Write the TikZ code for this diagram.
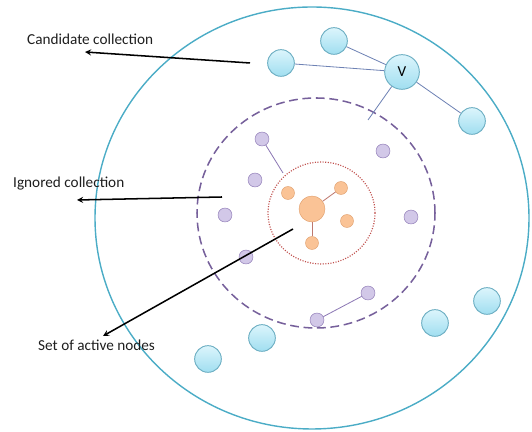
\documentclass[tikz,border=0pt]{standalone}
\usepackage{fontspec}
\setmainfont{Carlito}
\usetikzlibrary{arrows}
\definecolor{ringteal}{RGB}{75,172,198}
\definecolor{ringpurple}{RGB}{118,96,155}
\definecolor{ringred}{RGB}{192,80,77}
\definecolor{cyanlight}{RGB}{220,245,252}
\definecolor{cyandark}{RGB}{160,222,240}
\definecolor{cyanedge}{RGB}{110,175,195}
\definecolor{purplefill}{RGB}{210,200,232}
\definecolor{purpleedge}{RGB}{140,120,180}
\definecolor{orangefill}{RGB}{250,195,150}
\definecolor{orangeedge}{RGB}{225,160,110}
\definecolor{linkblue}{RGB}{110,130,180}
\definecolor{linkred}{RGB}{190,120,110}
\definecolor{textgray}{RGB}{30,30,30}
\tikzstyle{candnode} = [circle,draw=cyanedge,thick,top color=cyanlight,bottom color=cyandark,minimum size=0.8cm,inner sep=0pt]
\tikzstyle{ignnode} = [circle,draw=purpleedge,thin,fill=purplefill,minimum size=0.42cm,inner sep=0pt]
\tikzstyle{actnode} = [circle,draw=orangeedge,thin,fill=orangefill,minimum size=0.39cm,inner sep=0pt]
\tikzstyle{link} = [line width=0.7pt]
\tikzstyle{arrow} = [line width=1.3pt,->,>=stealth,color=black]
\tikzstyle{label} = [anchor=west,inner sep=0pt,text=textgray,font=\fontsize{13}{15}\selectfont]

\begin{document}
\begin{tikzpicture}[x=0.03cm, y=0.03cm]
\useasboundingbox (0,0) rectangle (532,432);

% Rings
\draw[ringteal, line width=1.2pt] (312,214) ellipse [x radius=217, y radius=211];
\draw[ringpurple, line width=1.3pt, dash pattern=on 7.5pt off 4pt] (316,219) ellipse [x radius=119, y radius=115];
\draw[ringred, line width=1pt, dash pattern=on 0.9pt off 1.3pt] (321.5,219) ellipse [x radius=53.5, y radius=51];

% Active nodes
\node[actnode, minimum size=0.78cm] (a0) at (312,223) {};
\node[actnode] (a1) at (288,239) {};
\node[actnode] (a2) at (341,244) {};
\node[actnode] (a3) at (347,211) {};
\node[actnode] (a4) at (312,189) {};
\draw[link, linkred] (a0) -- (a2);
\draw[link, linkred] (a0) -- (a4);

% Ignored nodes
\node[ignnode] (p1) at (262,293) {};
\node[ignnode] (p2) at (255,252) {};
\node[ignnode] (p3) at (225,217) {};
\node[ignnode] (p4) at (246,175) {};
\node[ignnode] (p5) at (383,281) {};
\node[ignnode] (p6) at (411,215) {};
\node[ignnode] (p7) at (368,139) {};
\node[ignnode] (p8) at (317,112) {};
\coordinate (redrim) at (283,259);
\draw[link, purpleedge] (p1) -- (redrim);
\draw[link, purpleedge] (p7) -- (p8);

% Candidate nodes
\node[candnode] (c1) at (334,391) {};
\node[candnode] (c2) at (281,369) {};
\node[candnode, minimum size=1.04cm] (v) at (402,360) {\fontsize{13}{15}\selectfont V};
\node[candnode] (c3) at (472,311) {};
\node[candnode] (c4) at (487,131) {};
\node[candnode] (c5) at (435,109) {};
\node[candnode] (c6) at (262,94) {};
\node[candnode] (c7) at (208,73) {};
\coordinate (vend) at (368,312);
\draw[link, linkblue] (v) -- (c1);
\draw[link, linkblue] (v) -- (c2);
\draw[link, linkblue] (v) -- (c3);
\draw[link, linkblue] (v) -- (vend);

% Labels and arrows
\node[label] (candtxt) at (27,393) {Candidate collection};
\node[label] (igntxt) at (13,248) {Ignored collection};
\node[label] (acttxt) at (38,87) {Set of active nodes};
\coordinate (candfrom) at (250,369);
\coordinate (candto) at (85,380);
\coordinate (ignfrom) at (222,235);
\coordinate (ignto) at (77,232);
\coordinate (actfrom) at (293,203);
\coordinate (actto) at (103,96);
\draw[arrow] (candfrom) -- (candto);
\draw[arrow] (ignfrom) -- (ignto);
\draw[arrow] (actfrom) -- (actto);
\end{tikzpicture}
\end{document}
